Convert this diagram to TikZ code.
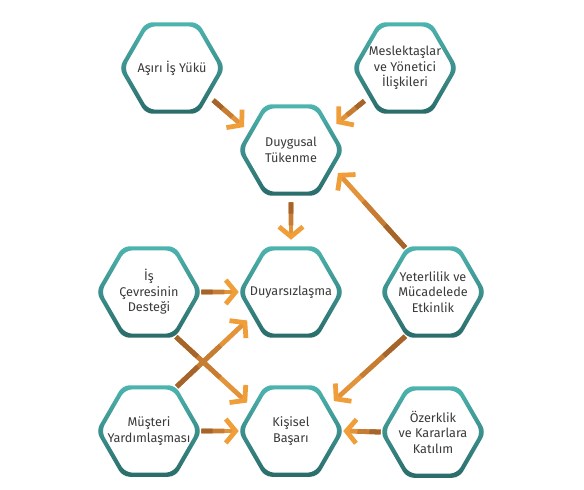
\documentclass[tikz,border=0pt]{standalone}
\usepackage{fontspec}
\setmainfont{Fira Sans}
\usetikzlibrary{arrows.meta,calc}
\definecolor{tealtop}{HTML}{4DB4AF}
\definecolor{tealbot}{HTML}{2A6C6A}
\definecolor{flowtip}{HTML}{F09E3A}
\definecolor{flowend}{HTML}{E3933A}
\definecolor{flowmid}{HTML}{C67D33}
\definecolor{flowroot}{HTML}{A5642B}
\definecolor{labelgray}{HTML}{3A3A3A}
\tikzset{
 factor/.style={circle,minimum size=2.6cm,inner sep=0pt,align=center,text=labelgray,font=\fontsize{9}{11}\selectfont},
 hexring/.style={top color=tealtop,bottom color=tealbot,even odd rule,rounded corners=5pt},
 flow/.style={draw=flowend,line width=3.4pt,-{Straight Barb[length=7pt,width=17pt,color=flowtip]}},
 flowpart/.style={line width=3.4pt}
}
\newcommand{\hexframe}[1]{\shade[hexring,shift={(#1)}] (0:1.32cm) -- (60:1.32cm) -- (120:1.32cm) -- (180:1.32cm) -- (240:1.32cm) -- (300:1.32cm) -- cycle (0:1.2cm) -- (60:1.2cm) -- (120:1.2cm) -- (180:1.2cm) -- (240:1.2cm) -- (300:1.2cm) -- cycle;}
\newcommand{\flowline}[2]{\draw[flow] (#1) -- (#2);
 \draw[flowpart,flowmid] (#1) -- ($(#1)!0.62!(#2)$);
 \draw[flowpart,flowroot] (#1) -- ($(#1)!0.3!(#2)$);}
\begin{document}
\begin{tikzpicture}[x=0.025cm,y=-0.025cm]
 \fill[white] (0,0) rectangle (584,489);
 \useasboundingbox (0,0) rectangle (584,489);
 % factors
 \node[factor] (workload) at (172,68) {Aşırı İş Yükü};
 \node[factor] (colleague) at (405,68) {Meslektaşlar\\ve Yönetici\\İlişkileri};
 \node[factor] (exhaust) at (291,150) {Duygusal\\Tükenme};
 \node[factor] (support) at (149,292) {İş\\Çevresinin\\Desteği};
 \node[factor] (depers) at (291,292) {Duyarsızlaşma};
 \node[factor] (efficacy) at (433,292) {Yeterlilik ve\\Mücadelede\\Etkinlik};
 \node[factor] (customer) at (149,431) {Müşteri\\Yardımlaşması};
 \node[factor] (achieve) at (291,431) {Kişisel\\Başarı};
 \node[factor] (autonomy) at (433,432) {Özerklik\\ve Kararlara\\Katılım};
 \hexframe{workload} \hexframe{colleague} \hexframe{exhaust}
 \hexframe{support} \hexframe{depers} \hexframe{efficacy}
 \hexframe{customer} \hexframe{achieve} \hexframe{autonomy}
 % arrows
 \flowline{workload.-38}{exhaust.154}
 \flowline{colleague.-141}{exhaust.30}
 \flowline{exhaust.-90}{depers.90}
 \flowline{efficacy.122}{exhaust.-26}
 \flowline{support.0}{depers.180}
 \flowline{support.-59}{achieve.147}
 \flowline{customer.58}{depers.213}
 \flowline{efficacy.-122}{achieve.35}
 \flowline{customer.0}{achieve.180}
 \flowline{autonomy.180}{achieve.0}
\end{tikzpicture}
\end{document}
